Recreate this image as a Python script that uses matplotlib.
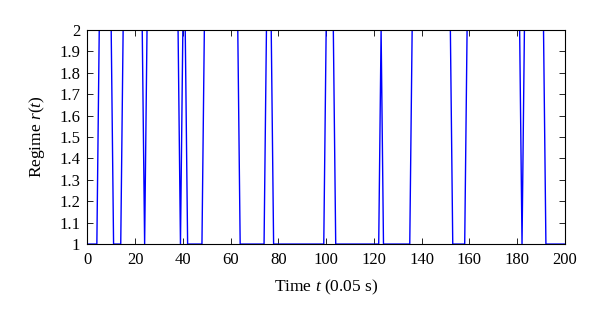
import numpy as np
import matplotlib
matplotlib.use("Agg")
import matplotlib.pyplot as plt

plt.rcParams['font.family'] = ['Liberation Serif', 'DejaVu Serif']
plt.rcParams['mathtext.fontset'] = 'custom'
plt.rcParams['mathtext.rm'] = 'Liberation Serif'
plt.rcParams['mathtext.it'] = 'Liberation Serif:italic'

# regime runs: first time step of each run and the regime held during it
run_starts = [0, 5, 11, 15, 24, 25, 39, 40, 42, 49, 64, 75, 78, 100, 104,
              123, 124, 136, 153, 159, 182, 183, 192]
run_values = [1, 2, 1, 2, 1, 2, 1, 2, 1, 2, 1, 2, 1, 2, 1,
              2, 1, 2, 1, 2, 1, 2, 1]
t_end = 200

x_ticks = list(range(0, 201, 20))
y_ticks = [1.0, 1.1, 1.2, 1.3, 1.4, 1.5, 1.6, 1.7, 1.8, 1.9, 2.0]
y_tick_labels = ["1", "1.1", "1.2", "1.3", "1.4", "1.5", "1.6", "1.7", "1.8", "1.9", "2"]

# expand runs into one value per time step
lengths = np.diff(run_starts + [t_end + 1])
r = np.repeat(run_values, lengths)
t = np.arange(len(r))

fig = plt.figure(figsize=(6, 3.22), dpi=100)
ax = fig.add_axes([0.1455, 0.242, 0.7962, 0.665])

ax.plot(t, r, color=(0, 0, 1), linewidth=1.0)

ax.set_xlim(0, 200)
ax.set_ylim(1, 2)
ax.set_xticks(x_ticks)
ax.set_yticks(y_ticks)
ax.set_yticklabels(y_tick_labels)
ax.tick_params(direction='in', top=True, right=True, length=4, width=0.6,
               labelsize=12)
ax.tick_params(axis='x', pad=6)
ax.tick_params(axis='y', pad=5)
for s in ax.spines.values():
    s.set_linewidth(0.8)

ax.set_xlabel("Time $t$ (0.05 s)", fontsize=12.5, labelpad=7)
ax.set_ylabel("Regime $r$($t$)", fontsize=12.5, labelpad=9)

fig.savefig("out.png", dpi=100)
